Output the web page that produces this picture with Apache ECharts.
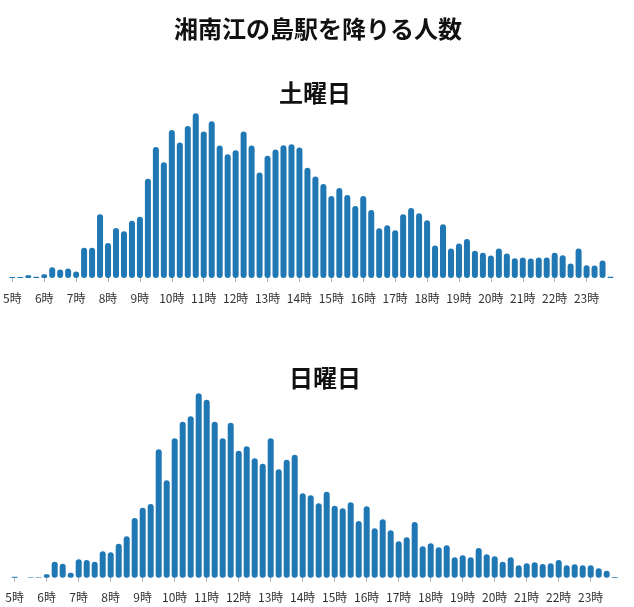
<!DOCTYPE html>
<html>
<head>
<meta charset="utf-8">
<script src="https://cdn.jsdelivr.net/npm/echarts@6/dist/echarts.min.js"></script>
<style>
  html, body { margin: 0; padding: 0; background: #fff; }
  #main { width: 634px; height: 607px; }
</style>
</head>
<body>
<div id="main"></div>
<script>
// 15分ごとの降車人数 (5:00 〜 23:45)
var hourLabels = ['5時','6時','7時','8時','9時','10時','11時','12時','13時','14時',
                  '15時','16時','17時','18時','19時','20時','21時','22時','23時'];
var quarters = ['00', '15', '30', '45'];

var saturday = [
    3, 3, 8, 4,
    11, 32, 25, 28,
    19, 90, 90, 190,
    104, 149, 139, 170,
    182, 295, 390, 344,
    440, 403, 452, 490,
    436, 466, 394, 368,
    380, 436, 394, 314,
    364, 382, 395, 398,
    388, 328, 302, 280,
    244, 268, 247, 214,
    244, 202, 148, 157,
    142, 190, 208, 193,
    172, 97, 160, 88,
    103, 116, 81, 75,
    67, 88, 73, 59,
    61, 58, 61, 61,
    75, 68, 43, 88,
    38, 37, 52, 4
];

var sunday = [
    3, 0, 1, 1,
    10, 48, 42, 15,
    55, 53, 48, 79,
    76, 102, 124, 179,
    210, 221, 385, 292,
    418, 468, 484, 553,
    534, 468, 418, 465,
    381, 394, 358, 342,
    418, 325, 354, 369,
    253, 247, 223, 258,
    216, 208, 226, 170,
    214, 148, 175, 142,
    109, 121, 167, 94,
    103, 91, 97, 61,
    67, 61, 89, 70,
    64, 48, 61, 37,
    43, 46, 41, 43,
    53, 37, 40, 37,
    37, 28, 21, 2
];

var categories = [];
hourLabels.forEach(function (h) {
    quarters.forEach(function (q) {
        categories.push(h.replace('時', '') + ':' + q);
    });
});

var barColor = '#1f77b4';
var font = '"Noto Sans CJK JP", "Noto Sans", sans-serif';

function xAxisFor(gridIndex) {
    return {
        type: 'category',
        gridIndex: gridIndex,
        data: categories,
        axisLine: { show: false },
        axisTick: {
            show: true,
            alignWithLabel: true,
            interval: 3,
            length: 4,
            lineStyle: { color: '#b0b0b0' }
        },
        axisLabel: {
            interval: 3,
            margin: 14,
            fontSize: 12,
            color: '#333',
            fontFamily: font,
            formatter: function (v, i) { return hourLabels[i / 4]; }
        }
    };
}

function yAxisFor(gridIndex, max) {
    return {
        type: 'value',
        gridIndex: gridIndex,
        min: 0,
        max: max,
        show: false,
        splitLine: { show: false }
    };
}

function seriesFor(name, idx, data) {
    return {
        name: name,
        type: 'bar',
        xAxisIndex: idx,
        yAxisIndex: idx,
        data: data,
        barWidth: 6,
        itemStyle: { color: barColor, borderRadius: 3 }
    };
}

var myChart = echarts.init(document.getElementById('main'));
var option = {
    animation: false,
    backgroundColor: '#fff',
    title: [
        {
            text: '湘南江の島駅を降りる人数',
            left: 318, top: 17, padding: 0, textAlign: 'center',
            textStyle: { fontSize: 24, fontWeight: 'bold', color: '#111', fontFamily: font }
        },
        {
            text: '土曜日',
            left: 315, top: 81, padding: 0, textAlign: 'center',
            textStyle: { fontSize: 24, fontWeight: 'bold', color: '#111', fontFamily: font }
        },
        {
            text: '日曜日',
            left: 325, top: 366, padding: 0, textAlign: 'center',
            textStyle: { fontSize: 24, fontWeight: 'bold', color: '#111', fontFamily: font }
        }
    ],
    grid: [
        { left: 6.5, right: 19.5, top: 113.3, height: 164.7 },
        { left: 10.7, right: 15.3, top: 393.3, height: 184.4 }
    ],
    xAxis: [xAxisFor(0), xAxisFor(1)],
    yAxis: [yAxisFor(0, 490), yAxisFor(1, 553)],
    series: [
        seriesFor('土曜日', 0, saturday),
        seriesFor('日曜日', 1, sunday)
    ]
};
myChart.setOption(option);
</script>
</body>
</html>
